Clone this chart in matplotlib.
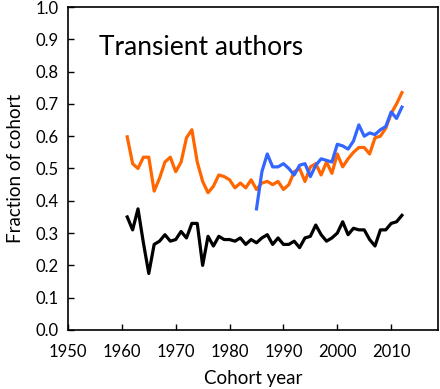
import matplotlib
matplotlib.use("Agg")
import matplotlib.pyplot as plt
import numpy as np

years_a = list(range(1961, 2013))
orange = [0.598, 0.515, 0.50, 0.535, 0.535, 0.43, 0.47, 0.52, 0.535, 0.49,
          0.52, 0.595, 0.62, 0.52, 0.46, 0.425, 0.445, 0.48, 0.475, 0.465,
          0.44, 0.455, 0.44, 0.465, 0.435, 0.455, 0.46, 0.45, 0.46, 0.435,
          0.45, 0.49, 0.50, 0.46, 0.505, 0.515, 0.48, 0.52, 0.485, 0.545,
          0.505, 0.53, 0.55, 0.565, 0.565, 0.545, 0.595, 0.60, 0.625, 0.67,
          0.70, 0.735]
black = [0.35, 0.31, 0.375, 0.27, 0.175, 0.265, 0.275, 0.295, 0.275, 0.28,
         0.305, 0.285, 0.33, 0.33, 0.20, 0.29, 0.26, 0.29, 0.28, 0.28,
         0.275, 0.285, 0.265, 0.28, 0.27, 0.285, 0.295, 0.265, 0.285, 0.265,
         0.265, 0.275, 0.255, 0.285, 0.29, 0.325, 0.295, 0.275, 0.285, 0.30,
         0.335, 0.295, 0.315, 0.31, 0.31, 0.28, 0.26, 0.31, 0.31, 0.33,
         0.335, 0.355]
years_b = list(range(1985, 2013))
blue = [0.375, 0.49, 0.545, 0.505, 0.505, 0.515, 0.50, 0.48, 0.51, 0.515,
        0.475, 0.51, 0.53, 0.525, 0.52, 0.575, 0.57, 0.56, 0.585, 0.635,
        0.60, 0.61, 0.605, 0.62, 0.63, 0.675, 0.655, 0.69]

xticks = [1950, 1960, 1970, 1980, 1990, 2000, 2010]
yticks = [round(0.1 * i, 1) for i in range(11)]

plt.rcParams['font.family'] = ['Lato', 'DejaVu Sans']
fig = plt.figure(figsize=(4.4, 3.89), dpi=100)
ax = fig.add_axes([0.1545, 0.1517, 0.841, 0.8303])
lw = 2.3
ax.plot(years_a, orange, color='#FF6600', lw=lw)
ax.plot(years_b, blue, color='#3366FF', lw=lw)
ax.plot(years_a, black, color='black', lw=lw)

ax.set_xlim(1950, 2018.7)
ax.set_ylim(0, 1.0)
ax.set_xticks(xticks)
ax.set_yticks(yticks)
ax.set_yticklabels([f"{v:.1f}" for v in yticks])
ax.tick_params(direction='in', length=4, width=1, labelsize=12)
ax.tick_params(axis='x', pad=10)
ax.tick_params(axis='y', pad=7)
for s in ax.spines.values():
    s.set_linewidth(1.2)
ax.set_xlabel('Cohort year', fontsize=13.5, labelpad=7)
ax.set_ylabel('Fraction of cohort', fontsize=13.5, labelpad=8)
ax.text(0.085, 0.875, 'Transient authors', transform=ax.transAxes,
        fontsize=19, va='center', ha='left')
fig.savefig('out.png', dpi=100)
